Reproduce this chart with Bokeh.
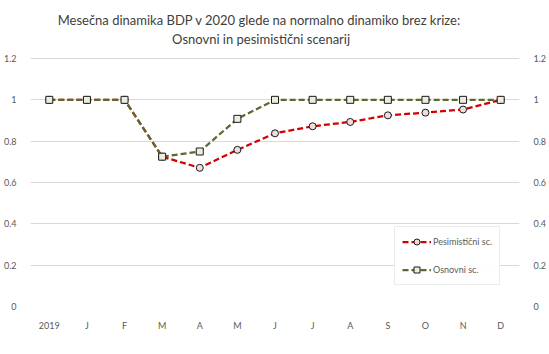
from bokeh.plotting import figure
from bokeh.models import FixedTicker, LinearAxis, Legend, LegendItem, Range1d, Label
from bokeh.embed import file_html
from bokeh.resources import INLINE

months = ["2019", "J", "F", "M", "A", "M", "J", "J", "A", "S", "O", "N", "D"]
pesimisticni = [1, 1, 1, 0.725, 0.671, 0.758, 0.838, 0.872, 0.893, 0.925, 0.938, 0.953, 1]
osnovni = [1, 1, 1, 0.725, 0.750, 0.908, 1, 1, 1, 1, 1, 1, 1]
y_ticks = [0, 0.2, 0.4, 0.6, 0.8, 1, 1.2]
y_labels = ["0", "0.2", "0.4", "0.6", "0.8", "1", "1.2"]
title_line1 = "Mesečna dinamika BDP v 2020 glede na normalno dinamiko brez  krize:"
title_line2 = "Osnovni in pesimistični scenarij"
series_names = ["Pesimistični sc.", "Osnovni sc."]

FONT = "Lato"
xs = list(range(len(months)))

W, H = 549, 354
BL, BR, BB = 29, 28, 48
GRID_TOP = 58          # pixel row of the top (1.2) gridline
x0, x1 = -0.5, len(months) - 0.5
y0, ytop = 0, 1.2
per_px = (ytop - y0) / (H - GRID_TOP - BB)
y1 = ytop + GRID_TOP * per_px   # frame extends to the top of the canvas

p = figure(width=W, height=H, output_backend="svg", toolbar_location=None,
           x_range=Range1d(x0, x1), y_range=Range1d(y0, y1),
           min_border_left=BL, min_border_right=BR, min_border_top=0, min_border_bottom=BB,
           y_axis_location=None, x_axis_location=None)
p.outline_line_color = None
p.background_fill_color = "white"
p.border_fill_color = "white"

def px_to_x(px):
    return x0 + (px - BL) * (x1 - x0) / (W - BL - BR)

def py_to_y(py):
    return y1 - py * per_px

for txt, py in [(title_line1, 19), (title_line2, 38)]:
    p.add_layout(Label(x=px_to_x(261), y=py_to_y(py), text=txt, text_align="center",
                       text_baseline="middle", text_font=FONT, text_font_size="13px",
                       text_color="#404040"))

ylab = {v: l for v, l in zip(y_ticks, y_labels)}
for side in ["left", "right"]:
    ax = LinearAxis(ticker=FixedTicker(ticks=y_ticks), major_label_overrides=ylab)
    ax.axis_line_color = None
    ax.major_tick_line_color = None
    ax.minor_tick_line_color = None
    ax.major_label_text_font = FONT
    ax.major_label_text_font_size = "9px"
    ax.major_label_text_color = "#595959"
    ax.major_label_standoff = 8
    p.add_layout(ax, side)

xax = LinearAxis(ticker=FixedTicker(ticks=xs), major_label_overrides={i: m for i, m in zip(xs, months)})
xax.axis_line_color = None
xax.major_tick_line_color = None
xax.minor_tick_line_color = None
xax.major_label_text_font = FONT
xax.major_label_text_font_size = "9px"
xax.major_label_text_color = "#595959"
xax.major_label_standoff = 7
p.add_layout(xax, "below")

p.ygrid.ticker = FixedTicker(ticks=y_ticks)
p.ygrid.grid_line_color = "#D9D9D9"
p.xgrid.grid_line_color = None

red = "#D40000"
green = "#5A6B2F"
l1 = p.line(xs, pesimisticni, line_color=red, line_width=2.25, line_dash="6 3")
m1 = p.scatter(xs, pesimisticni, marker="circle", size=7, fill_color="#F2DCDB", line_color="#1a1a1a", line_width=1)
l2 = p.line(xs, osnovni, line_color=green, line_width=2.25, line_dash="6 3")
m2 = p.scatter(xs, osnovni, marker="square", size=7, fill_color="#EEECE1", line_color="#1a1a1a", line_width=1)

legend = Legend(items=[LegendItem(label=series_names[0], renderers=[l1, m1]),
                       LegendItem(label=series_names[1], renderers=[l2, m2])],
                location=(364, 21))
legend.label_text_font = FONT
legend.label_text_font_size = "9px"
legend.label_text_color = "#595959"
legend.border_line_color = "#D9D9D9"
legend.glyph_width = 29
legend.glyph_height = 15
legend.label_height = 15
legend.label_standoff = 2
legend.spacing = 13
legend.padding = 7
legend.margin = 0
p.add_layout(legend, "center")

open("out.html", "w").write(file_html(p, INLINE))
